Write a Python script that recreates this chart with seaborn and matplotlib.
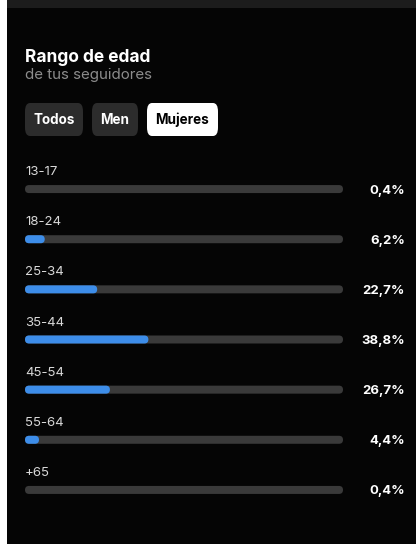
import matplotlib
matplotlib.use("Agg")
import matplotlib.pyplot as plt
import seaborn as sns
import pandas as pd
from matplotlib.patches import FancyBboxPatch, Rectangle
import matplotlib.transforms as mtransforms

# ---- data ----
age_groups = ["13-17", "18-24", "25-34", "35-44", "45-54", "55-64", "+65"]
percent = [0.4, 6.2, 22.7, 38.8, 26.7, 4.4, 0.4]
percent_labels = ["0,4%", "6,2%", "22,7%", "38,8%", "26,7%", "4,4%", "0,4%"]
track_total = [100] * len(age_groups)
title = "Rango de edad"
subtitle = "de tus seguidores"
buttons = ["Todos", "Men", "Mujeres"]

W, H = 416, 544
BG = "#050505"
TRACK = "#3a3a3a"
BLUE = "#3d8de9"

sns.set_theme(style="white")
plt.rcParams["font.family"] = ["Inter", "DejaVu Sans"]

fig = plt.figure(figsize=(W / 100, H / 100), dpi=100)
fig.patch.set_facecolor(BG)

def fx(px):
    return px / W

def fy(py):
    return 1 - py / H

# top strip and left white edge
fig.patches.append(Rectangle((0, fy(8)), 1, 8 / H, transform=fig.transFigure,
                             facecolor="#1c1c1c", edgecolor="none", zorder=0))
fig.patches.append(Rectangle((0, 0), fx(7), 1, transform=fig.transFigure,
                             facecolor="white", edgecolor="none", zorder=0))

# titles
fig.text(fx(25), fy(57), title, color="white", fontsize=12.5, fontweight="bold",
         va="center", ha="left")
fig.text(fx(25), fy(75.5), subtitle, color="#8c8c8c", fontsize=10.9,
         va="center", ha="left")

# buttons
btn_boxes = [(25, 83), (92, 138), (147, 218)]
for (x0, x1), label in zip(btn_boxes, buttons):
    active = label == "Mujeres"
    fc = "white" if active else "#2c2c2c"
    tc = "black" if active else "white"
    fig.patches.append(FancyBboxPatch((fx(x0), fy(136)), fx(x1 - x0), 33 / H,
                                      boxstyle="round,pad=0,rounding_size=0.012",
                                      transform=fig.transFigure, facecolor=fc,
                                      edgecolor="none", mutation_aspect=H / W))
    fig.text(fx((x0 + x1) / 2), fy(120), label, color=tc, fontsize=9.7,
             fontweight="bold", ha="center", va="center")

# bar axes
top_px, bot_px = 164, 515
ax = fig.add_axes([fx(25), fy(bot_px), fx(343 - 25), (bot_px - top_px) / H])
ax.set_facecolor("none")

df = pd.DataFrame({"age": age_groups, "pct": percent, "track": track_total})
bar_h = 8 / ((bot_px - top_px) / len(age_groups))
sns.barplot(data=df, x="track", y="age", orient="h", color=TRACK, width=bar_h,
            ax=ax, saturation=1)
sns.barplot(data=df, x="pct", y="age", orient="h", color=BLUE, width=bar_h,
            ax=ax, saturation=1)
ax.set_xlim(0, 100)
ax.set_ylim(len(age_groups) - 0.5, -0.5)

# convert bars to rounded shapes
ax_w_px = 343 - 25
ax_h_px = bot_px - top_px
x_per_px = 100 / ax_w_px
y_per_px = len(age_groups) / ax_h_px
patches = list(ax.patches)
for i, p in enumerate(patches):
    x, y = p.get_x(), p.get_y()
    w, h = p.get_width(), p.get_height()
    fc = p.get_facecolor()
    p.remove()
    if w < 1:
        continue
    r = min(4 * x_per_px, w / 2)
    ax.add_patch(FancyBboxPatch((x, y), w, h,
                                boxstyle=f"round,pad=0,rounding_size={r}",
                                mutation_aspect=y_per_px / x_per_px,
                                facecolor=fc, edgecolor="none",
                                zorder=2 + (i >= len(age_groups))))

# labels
trans = mtransforms.blended_transform_factory(fig.transFigure, ax.transData)
for i, (lab, pl) in enumerate(zip(age_groups, percent_labels)):
    ax.text(0, i - 17 * y_per_px, lab, color="#d8d8d8", fontsize=9.5,
            ha="left", va="center")
    ax.text(fx(405), i + 1.5 * y_per_px, pl, color="white", fontsize=9.5,
            fontweight="bold", ha="right", va="center", transform=trans,
            clip_on=False)

ax.set_xlabel("")
ax.set_ylabel("")
ax.set_xticks([])
ax.set_yticks([])
sns.despine(ax=ax, left=True, bottom=True)

fig.savefig("out.png", dpi=100, facecolor=BG)
